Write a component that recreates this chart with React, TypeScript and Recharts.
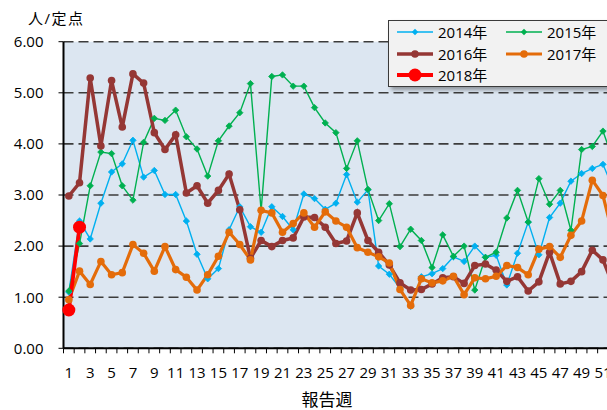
import React from 'react';
import { LineChart, Line, XAxis, YAxis, CartesianGrid, Legend, Label } from 'recharts';

const weeks = [
  1, 2, 3, 4, 5, 6, 7, 8, 9, 10, 11, 12, 13, 14, 15, 16, 17, 18, 19, 20, 21, 22, 23, 24, 25, 26,
  27, 28, 29, 30, 31, 32, 33, 34, 35, 36, 37, 38, 39, 40, 41, 42, 43, 44, 45, 46, 47, 48, 49, 50, 51, 52,
];

const y2014 = [
  1.10, 2.49, 2.14, 2.84, 3.45, 3.61, 4.07, 3.35, 3.48, 3.01, 3.01, 2.49, 1.84, 1.36, 1.56, 2.32, 2.77,
  2.38, 2.27, 2.77, 2.58, 2.32, 3.02, 2.93, 2.72, 2.84, 3.40, 2.86, 3.10, 1.61, 1.45, 1.18, 0.82, 1.40,
  1.46, 1.56, 1.79, 1.70, 2.00, 1.78, 1.82, 1.24, 1.86, 2.47, 1.83, 2.56, 2.84, 3.27, 3.42, 3.52, 3.60, 3.10,
];
const y2015 = [
  1.12, 2.05, 3.18, 3.84, 3.81, 3.18, 2.90, 4.03, 4.50, 4.46, 4.66, 4.14, 3.90, 3.37, 4.06, 4.35, 4.61,
  5.18, 2.70, 5.32, 5.35, 5.13, 5.13, 4.71, 4.41, 4.22, 3.52, 4.06, 3.11, 2.50, 2.83, 1.99, 2.33, 2.11,
  1.58, 2.22, 1.80, 2.00, 1.14, 1.78, 1.88, 2.55, 3.09, 2.47, 3.32, 2.82, 3.09, 2.31, 3.89, 3.95, 4.25, 3.65,
];
const y2016 = [
  2.98, 3.24, 5.29, 3.96, 5.24, 4.33, 5.37, 5.19, 4.22, 3.89, 4.18, 3.04, 3.18, 2.84, 3.09, 3.41, 2.71,
  1.76, 2.11, 1.99, 2.11, 2.16, 2.57, 2.56, 2.37, 2.05, 2.10, 2.65, 2.11, 1.88, 1.63, 1.28, 1.14, 1.15,
  1.26, 1.38, 1.40, 1.27, 1.62, 1.65, 1.53, 1.31, 1.40, 1.12, 1.30, 1.88, 1.26, 1.31, 1.50, 1.92, 1.73, 1.20,
];
const y2017 = [
  0.95, 1.51, 1.25, 1.70, 1.44, 1.48, 2.03, 1.86, 1.51, 1.99, 1.54, 1.39, 1.14, 1.44, 1.80, 2.27, 2.03,
  1.73, 2.70, 2.65, 2.27, 2.44, 2.65, 2.37, 2.67, 2.49, 2.37, 1.97, 1.88, 1.79, 1.67, 1.15, 0.84, 1.36,
  1.28, 1.32, 1.41, 1.05, 1.38, 1.36, 1.41, 1.62, 1.58, 1.44, 1.94, 1.99, 1.78, 2.21, 2.49, 3.29, 2.99, 2.15,
];
const y2018 = [0.75, 2.37];

const yTicks = [0, 1, 2, 3, 4, 5, 6];
const yAxisTitle = '人/定点';
const xAxisTitle = '報告週';

const FONT = '"Open Sans", "Noto Sans CJK JP", sans-serif';

type SeriesDef = { key: string; name: string; color: string; width: number; marker: 'diamond' | 'circle'; size: number };
const series: SeriesDef[] = [
  { key: 'y2014', name: '2014年', color: '#00b0f0', width: 1.4, marker: 'diamond', size: 3.2 },
  { key: 'y2015', name: '2015年', color: '#00b050', width: 1.4, marker: 'diamond', size: 3.2 },
  { key: 'y2016', name: '2016年', color: '#953735', width: 3.5, marker: 'circle', size: 3.8 },
  { key: 'y2017', name: '2017年', color: '#e46c0a', width: 3.2, marker: 'circle', size: 3.8 },
  { key: 'y2018', name: '2018年', color: '#ff0000', width: 3.8, marker: 'circle', size: 6.5 },
];

const data = weeks.map((w, i) => ({
  week: w,
  y2014: y2014[i],
  y2015: y2015[i],
  y2016: y2016[i],
  y2017: y2017[i],
  y2018: y2018[i],
}));

const CHART_W = 619;
const CHART_H = 410;
const Y_AXIS_W = 63.5;
const BAND = (CHART_W - Y_AXIS_W) / weeks.length;

const makeDiamond = (color: string, r: number) => (props: any) => {
  const { cx, cy, index, value } = props;
  if (cx == null || cy == null || value == null) return <g key={`d-${index}`} />;
  return (
    <polygon
      key={`d-${index}`}
      points={`${cx},${cy - r} ${cx + r},${cy} ${cx},${cy + r} ${cx - r},${cy}`}
      fill={color}
      stroke={color}
      strokeWidth={0.8}
    />
  );
};

const XTick = (props: any) => {
  const { x, y, payload } = props;
  const w = Number(payload.value);
  return (
    <g>
      <line x1={x - BAND / 2} y1={y} x2={x - BAND / 2} y2={y + 5} stroke="#000" strokeWidth={1} />
      {w % 2 === 1 ? (
        <text x={x} y={y + 30} textAnchor="middle" fontSize={15} fill="#000" fontFamily={FONT}>
          {w}
        </text>
      ) : null}
    </g>
  );
};

const LegendIcon = ({ s }: { s: SeriesDef }) => (
  <svg width={36} height={20} style={{ display: 'block' }}>
    <line x1={0} y1={10} x2={36} y2={10} stroke={s.color} strokeWidth={s.width} />
    {s.marker === 'diamond' ? (
      <polygon points={`18,${10 - s.size} ${18 + s.size},10 18,${10 + s.size} ${18 - s.size},10`} fill={s.color} />
    ) : (
      <circle cx={18} cy={10} r={s.size} fill={s.color} />
    )}
  </svg>
);

const renderLegend = () => (
  <div
    style={{
      position: 'relative',
      boxSizing: 'border-box',
      width: 260,
      height: 67,
      background: '#f2f2f2',
      border: '1px solid #3a3a3a',
      boxShadow: '3px 3px 4px rgba(0,0,0,0.35)',
      fontFamily: FONT,
      fontSize: 15,
      color: '#000',
    }}
  >
    {series.map((s, i) => {
      const col = i % 2;
      const row = Math.floor(i / 2);
      return (
        <div
          key={s.key}
          style={{
            position: 'absolute',
            left: col === 0 ? 8 : 117,
            top: 1 + row * 21.5,
            height: 20,
            display: 'flex',
            alignItems: 'center',
            whiteSpace: 'nowrap',
          }}
        >
          <LegendIcon s={s} />
          <span style={{ marginLeft: 5, lineHeight: '20px' }}>{s.name}</span>
        </div>
      );
    })}
  </div>
);

export default function App() {
  return (
    <div style={{ position: 'fixed', left: 0, top: 0, width: 607, height: 410, overflow: 'hidden', background: '#fff' }}>
      <LineChart
        width={CHART_W}
        height={CHART_H}
        data={data}
        margin={{ top: 41.7, right: 0, bottom: 31.7, left: 0 }}
      >
        <CartesianGrid
          horizontal
          vertical={false}
          fill="#dce6f1"
          stroke="#3c3c3c"
          strokeWidth={1.6}
          strokeDasharray="10 5"
        />
        <XAxis
          dataKey="week"
          type="category"
          interval={0}
          height={30}
          padding={{ left: BAND / 2, right: BAND / 2 }}
          tick={<XTick />}
          tickLine={false}
          tickSize={0}
          tickMargin={0}
          axisLine={{ stroke: '#000', strokeWidth: 2 }}
        >
          <Label
            content={(p: any) => {
              const vb = p.viewBox || { x: 0, y: 0 };
              return (
                <text x={vb.x + 263.5} y={vb.y + 57.5} textAnchor="middle" fontSize={17} fill="#000" fontFamily={FONT}>
                  {xAxisTitle}
                </text>
              );
            }}
          />
        </XAxis>
        <YAxis
          type="number"
          domain={[0, 6]}
          ticks={yTicks}
          width={Y_AXIS_W}
          tickFormatter={(v: number) => v.toFixed(2)}
          tick={{ fontSize: 15, fill: '#000', fontFamily: FONT }}
          tickSize={5}
          tickMargin={15}
          tickLine={{ stroke: '#000', strokeWidth: 1 }}
          axisLine={{ stroke: '#000', strokeWidth: 2 }}
          interval={0}
        >
          <Label
            content={(p: any) => {
              const vb = p.viewBox || { x: 0, y: 0 };
              return (
                <text x={28} y={vb.y - 18} fontSize={15} fill="#000" fontFamily={FONT} letterSpacing={1.5}>
                  {yAxisTitle}
                </text>
              );
            }}
          />
        </YAxis>
        <Legend
          layout="horizontal"
          verticalAlign="middle"
          align="center"
          content={renderLegend}
          wrapperStyle={{ left: 388, top: 20, width: 260, height: 68 }}
        />
        {series.map((s) =>
          s.marker === 'diamond' ? (
            <Line
              key={s.key}
              type="linear"
              dataKey={s.key}
              name={s.name}
              stroke={s.color}
              strokeWidth={s.width}
              dot={makeDiamond(s.color, s.size)}
              activeDot={false}
              isAnimationActive={false}
            />
          ) : (
            <Line
              key={s.key}
              type="linear"
              dataKey={s.key}
              name={s.name}
              stroke={s.color}
              strokeWidth={s.width}
              dot={{ r: s.size, fill: s.color, stroke: s.color, strokeWidth: 0 }}
              activeDot={false}
              isAnimationActive={false}
            />
          )
        )}
      </LineChart>
    </div>
  );
}
